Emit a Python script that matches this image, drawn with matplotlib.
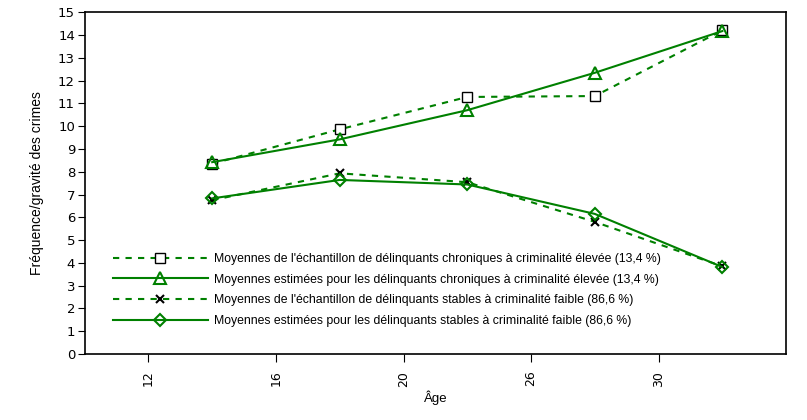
import numpy as np
import matplotlib.pyplot as plt

plt.rcParams['font.family'] = ['Liberation Sans', 'DejaVu Sans']

age_ticks = ['12', '16', '20', '26', '30']

chron_obs = [8.35, 9.86, 11.28, 11.32, 14.2]
chron_est = [8.42, 9.42, 10.7, 12.34, 14.17]
stable_obs = [6.75, 7.93, 7.54, 5.8, 3.85]
stable_est = [6.83, 7.64, 7.44, 6.15, 3.82]

lab1 = "Moyennes de l'échantillon de délinquants chroniques à criminalité élevée (13,4 %)"
lab2 = "Moyennes estimées pour les délinquants chroniques à criminalité élevée (13,4 %)"
lab3 = "Moyennes de l'échantillon de délinquants stables à criminalité faible (86,6 %)"
lab4 = "Moyennes estimées pour les délinquants stables à criminalité faible (86,6 %)"

green = '#008000'

fig = plt.figure(figsize=(8.07, 4.2), dpi=100)
ax = fig.add_axes([0.105, 0.157, 0.869, 0.814])

x = np.arange(len(chron_obs)) + 0.5

ax.plot(x, chron_obs, color=green, lw=1.5, ls=(0, (3, 3)), marker='s', ms=6.5,
        mfc='white', mec='black', mew=1, label=lab1)
ax.plot(x, chron_est, color=green, lw=1.5, marker='^', ms=8,
        mfc='none', mec=green, mew=1.5, label=lab2)
ax.plot(x, stable_obs, color=green, lw=1.5, ls=(0, (3, 3)), marker='x', ms=6,
        mec='black', mew=1.5, label=lab3)
ax.plot(x, stable_est, color=green, lw=1.5, marker='D', ms=6,
        mfc='none', mec=green, mew=1.5, label=lab4)

ax.set_xlim(-0.5, 5.0)
ax.set_ylim(0, 15)
ax.set_yticks(range(0, 16))
ax.set_xticks(range(len(age_ticks)))
ax.set_xticklabels(age_ticks, rotation=90, family='DejaVu Sans', fontsize=9)
for t in ax.get_yticklabels():
    t.set_family('DejaVu Sans')
    t.set_fontsize(9.5)
ax.tick_params(axis='x', length=6, direction='out', pad=6)
ax.tick_params(axis='y', length=5, direction='out', pad=2)
for s in ax.spines.values():
    s.set_linewidth(1.2)

ax.set_xlabel('Âge', fontsize=9.5, labelpad=3)
ax.set_ylabel('Fréquence/gravité des crimes', fontsize=10, labelpad=10)

ax.legend(loc='upper left', bbox_to_anchor=(0.04, 0.295), frameon=False,
          fontsize=8.8, handlelength=7.8, handletextpad=0.5, borderpad=0,
          borderaxespad=0, labelspacing=0.7)

plt.savefig('out.png', dpi=100)
